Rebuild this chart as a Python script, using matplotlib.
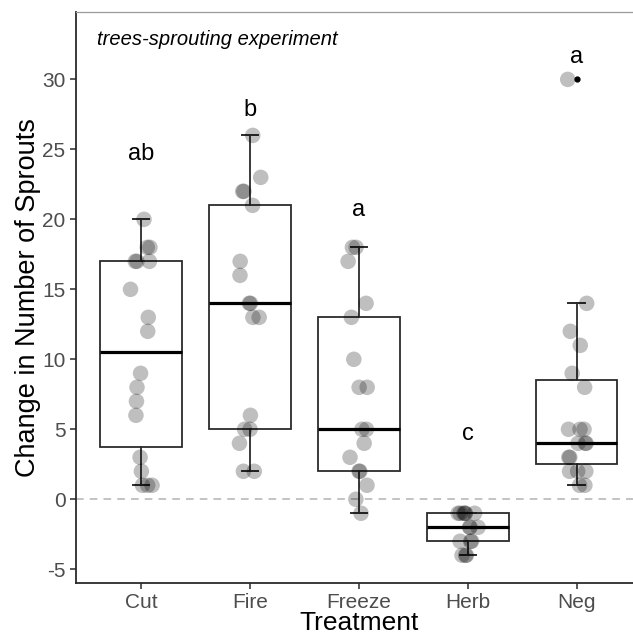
import numpy as np
import matplotlib
matplotlib.use("Agg")
import matplotlib.pyplot as plt

plt.rcParams['font.family'] = ['Liberation Sans', 'DejaVu Sans']
plt.rcParams['axes.unicode_minus'] = False

# valeurs
treatments = ["Cut", "Fire", "Freeze", "Herb", "Neg"]
cut = [20, 18, 18, 17, 17, 17, 15, 13, 12, 9, 8, 7, 6, 3, 2, 1, 1, 1]
fire = [26, 23, 22, 22, 21, 17, 16, 14, 14, 13, 13, 6, 5, 5, 4, 2, 2]
freeze = [18, 18, 17, 14, 13, 10, 8, 8, 5, 5, 4, 3, 2, 2, 1, 0, -1]
herb = [-1, -1, -1, -1, -1, -1, -2, -2, -2, -3, -3, -3, -4, -4, -4]
neg = [30, 14, 12, 11, 9, 8, 5, 5, 5, 4, 4, 4, 3, 3, 2, 2, 2, 1, 1]
letters = ["ab", "b", "a", "c", "a"]
letter_y = [24.7, 27.8, 20.7, 4.7, 31.6]

groups = [cut, fire, freeze, herb, neg]
pos = np.arange(1, len(treatments) + 1)

fig = plt.figure(figsize=(6.33, 6.37), dpi=100)
ax = fig.add_axes([76 / 633, 54.3 / 637, 565.8 / 633, 570.9 / 637])

ax.axhline(0, color="#b3b3b3", lw=1.1, ls=(0, (5, 4)), zorder=0)

line_col = "#2b2b2b"
ax.boxplot(groups, positions=pos, widths=0.75, capwidths=0.15, whis=1.5,
           patch_artist=True,
           boxprops=dict(facecolor="white", edgecolor=line_col, lw=1.3),
           medianprops=dict(color="black", lw=2.3),
           whiskerprops=dict(color=line_col, lw=1.3),
           capprops=dict(color=line_col, lw=1.4),
           flierprops=dict(marker="o", markerfacecolor="black",
                           markeredgecolor="black", markersize=3.5),
           zorder=2)

# jitter horizontal comme geom_jitter
rng = np.random.default_rng(7)
for p, vals in zip(pos, groups):
    xj = p + rng.uniform(-0.1, 0.1, len(vals))
    ax.scatter(xj, vals, s=125, color="black", alpha=0.25,
               edgecolors="none", zorder=3)

for p, lab, yv in zip(pos, letters, letter_y):
    ax.text(p, yv, lab, ha="center", va="center", fontsize=17, color="black")

ax.text(21 / 565.8, (582.7 - 40) / 570.9, "trees-sprouting experiment",
        fontsize=14.5, style="italic", ha="left", va="center",
        transform=ax.transAxes)

ax.set_xlim(0.4, 5.6)
ax.set_ylim(-5.96, 34.83)
ax.set_xticks(pos)
ax.set_xticklabels(treatments)
ax.set_yticks([-5, 0, 5, 10, 15, 20, 25, 30])
ax.tick_params(labelsize=15, labelcolor="#4d4d4d", color=line_col,
               length=4, width=1.1)

ax.set_xlabel("Treatment", fontsize=19, labelpad=-1)
ax.set_ylabel("Change in Number of Sprouts", fontsize=19.5, labelpad=1)

ax.spines["right"].set_visible(False)
ax.spines["top"].set_color("#9a9a9a")
ax.spines["top"].set_linewidth(0.9)
for s in ["left", "bottom"]:
    ax.spines[s].set_color(line_col)
    ax.spines[s].set_linewidth(1.3)

fig.savefig("out.png", dpi=100)
